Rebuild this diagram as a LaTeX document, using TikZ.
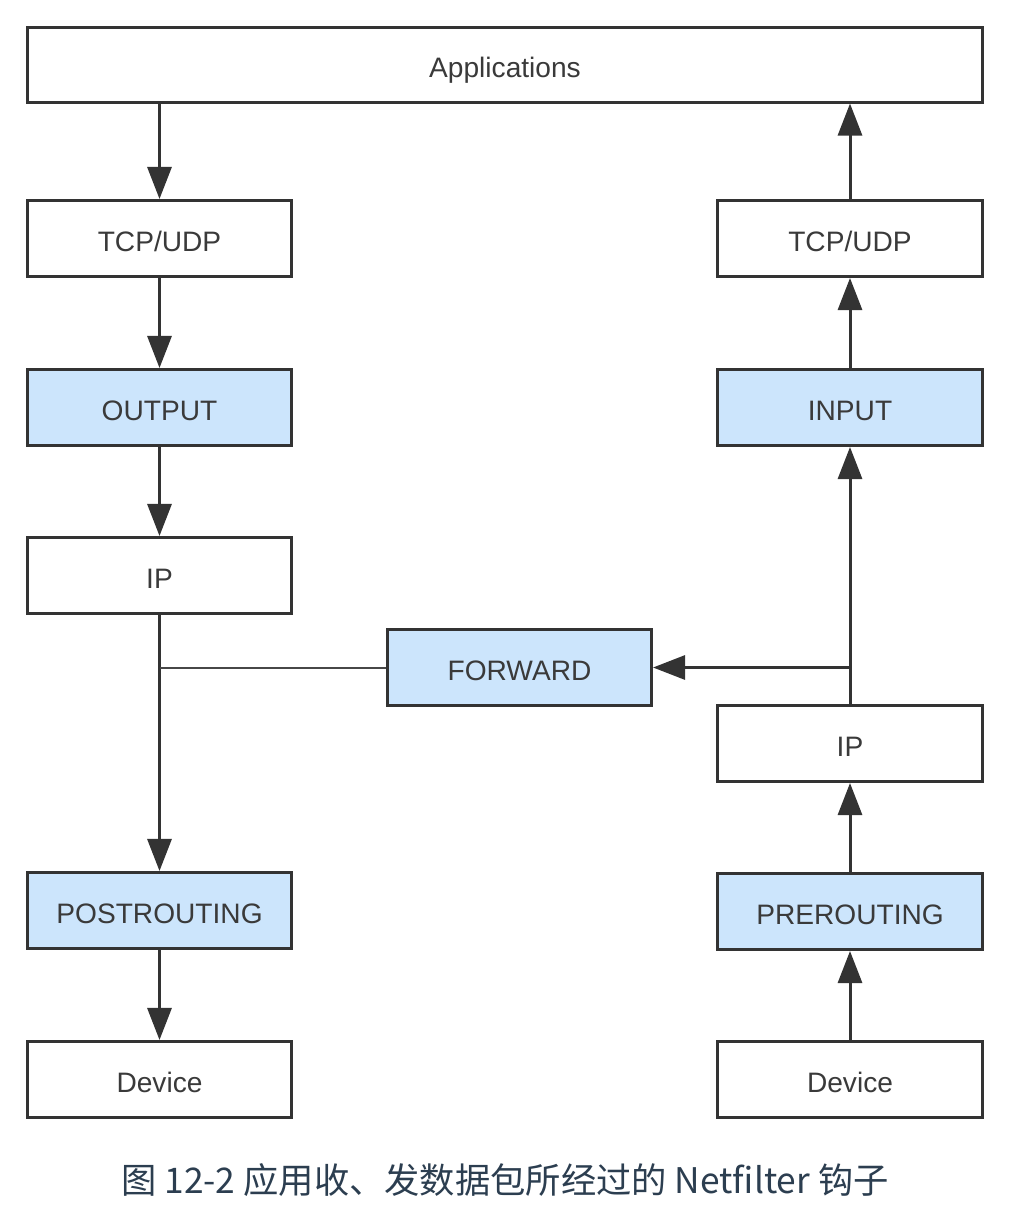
\documentclass[tikz,border=0pt]{standalone}
\usepackage{fontspec}
\setmainfont{Liberation Sans}
\newfontfamily\cjkfont{Noto Sans CJK SC}
\usetikzlibrary{arrows.meta}
\definecolor{linec}{HTML}{333333}
\definecolor{hookfill}{HTML}{CCE5FC}
\definecolor{txtc}{HTML}{3A3A3A}
\definecolor{capc}{HTML}{2C3E50}
\tikzset{
  stagebox/.style={draw=linec, line width=0.075cm, fill=white, inner sep=0pt,
    minimum width=6.6cm, minimum height=1.9cm, text=txtc,
    text height=0.629cm, text depth=0pt,
    font=\fontsize{20}{24}\selectfont},
  hookbox/.style={stagebox, fill=hookfill},
  flow/.style={draw=linec, line width=0.075cm, -{Triangle[length=0.8cm,width=0.6cm]}},
  thinflow/.style={draw=linec!90, line width=0.05cm},
}
\begin{document}
\begin{tikzpicture}[x=0.025cm,y=-0.025cm]
\useasboundingbox[fill=white] (0,0) rectangle (1012,1218);
% boxes
\node[stagebox, minimum width=23.85cm, minimum height=1.85cm] (app) at (505,65) {Applications};
\node[stagebox] (tcpl) at (159.5,238.5) {TCP/UDP};
\node[hookbox] (output) at (159.5,407.5) {OUTPUT};
\node[stagebox] (ipl) at (159.5,575.5) {IP};
\node[hookbox] (forward) at (519.5,667.5) {FORWARD};
\node[hookbox] (post) at (159.5,910.5) {POSTROUTING};
\node[stagebox] (devl) at (159.5,1079.5) {Device};
\node[stagebox] (tcpr) at (850,238.5) {TCP/UDP};
\node[hookbox] (input) at (850,407.5) {INPUT};
\node[stagebox] (ipr) at (850,743.5) {IP};
\node[hookbox] (pre) at (850,911.5) {PREROUTING};
\node[stagebox] (devr) at (850,1079.5) {Device};
\coordinate (junl) at (159.5,667.5);
\coordinate (junr) at (850,667.5);
% left path
\draw[flow] (app.south -| tcpl) -- (tcpl.north);
\draw[flow] (tcpl) -- (output);
\draw[flow] (output) -- (ipl);
\draw[flow] (ipl) -- (post);
\draw[flow] (post) -- (devl);
\draw[thinflow] (forward.west) -- (junl);
% right path
\draw[flow] (devr) -- (pre);
\draw[flow] (pre) -- (ipr);
\draw[flow] (ipr) -- (input);
\draw[flow] (junr) -- (forward.east);
\draw[flow] (input) -- (tcpr);
\draw[flow] (tcpr.north) -- (tcpr.north |- app.south);
% caption
\node[text=capc, font=\cjkfont\fontsize{25.1}{29}\selectfont] (cap) at (505,1180) {图 12-2 应用收、发数据包所经过的 Netfilter 钩子};
\end{tikzpicture}
\end{document}
